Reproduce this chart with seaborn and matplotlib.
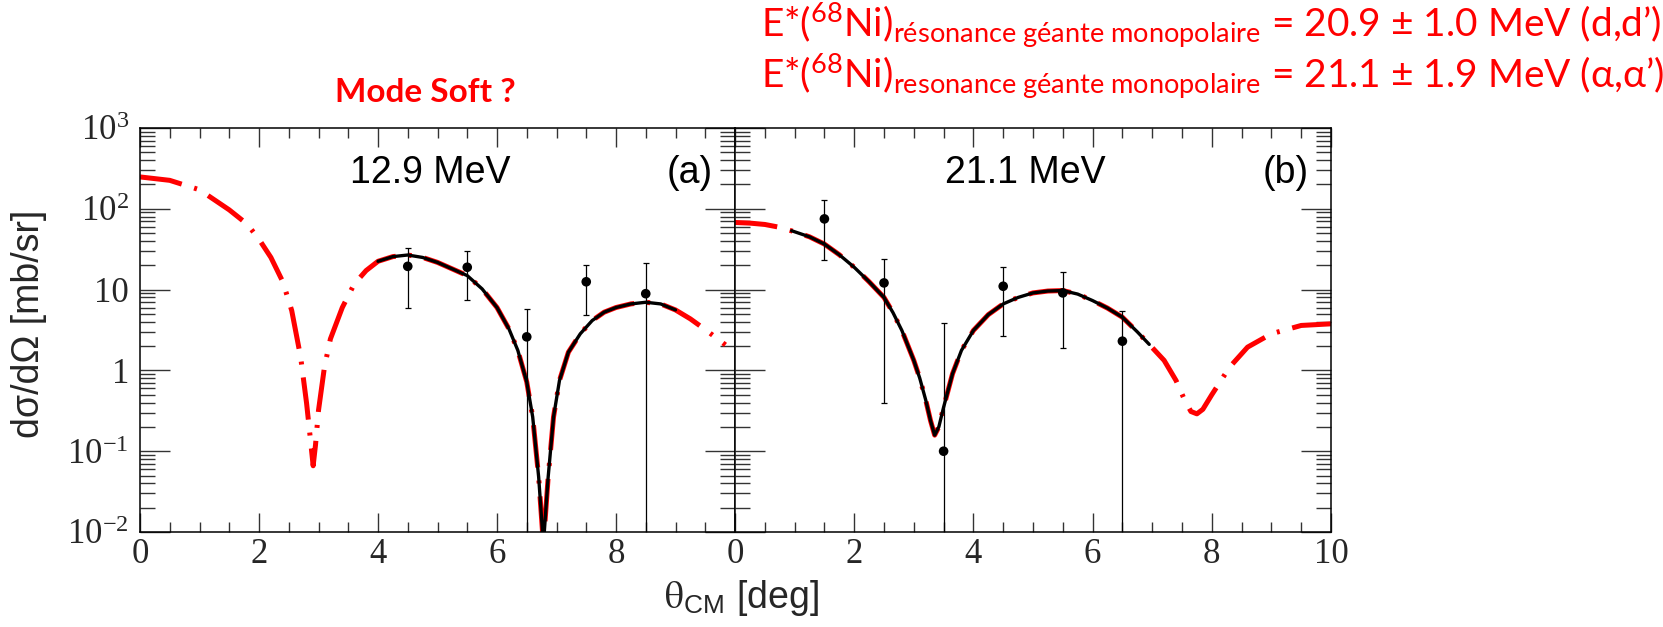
import numpy as np
import pandas as pd
import matplotlib
matplotlib.use("Agg")
import matplotlib.pyplot as plt
from matplotlib.ticker import FixedLocator, FixedFormatter, LogLocator, MultipleLocator, NullFormatter
import seaborn as sns

# ---- panel (a) : 12.9 MeV ----
theta_a_th = [0.0, 0.5, 1.0, 1.5, 1.8, 2.0, 2.2, 2.4, 2.55, 2.7, 2.8, 2.86, 2.91, 2.95, 3.0,
              3.1, 3.2, 3.4, 3.6, 3.8, 4.0, 4.25, 4.5, 4.75, 5.0, 5.25, 5.5, 5.75, 6.0, 6.2,
              6.35, 6.5, 6.6, 6.7, 6.78, 6.86, 6.95, 7.05, 7.2, 7.4, 7.6, 7.8, 8.0, 8.25, 8.5,
              8.75, 9.0, 9.25, 9.5, 9.84]
xs_a_th = [248, 225, 172, 97, 64.7, 42, 25, 12.5, 5.5, 1.46, 0.39, 0.15, 0.066, 0.12, 0.32,
           1.1, 2.45, 6.0, 11.7, 17.2, 22.4, 25.6, 26.8, 25.0, 21.7, 18.0, 14.9, 10.2, 6.0, 3.27,
           1.77, 0.72, 0.265, 0.048, 0.007, 0.048, 0.265, 0.75, 1.68, 2.84, 4.14, 5.25, 6.0, 6.65, 6.97,
           6.65, 5.6, 4.34, 3.2, 2.07]

fit_theta_a = [4.0, 4.25, 4.5, 4.75, 5.0, 5.25, 5.5, 5.75, 6.0, 6.2, 6.35, 6.5, 6.6, 6.7,
               6.78, 6.86, 6.95, 7.05, 7.2, 7.4, 7.6, 7.8, 8.0, 8.25, 8.5, 8.75, 9.0]
fit_xs_a = [22.4, 25.6, 26.8, 25.0, 21.7, 18.0, 14.9, 10.2, 6.0, 3.27, 1.77, 0.72, 0.265, 0.048,
            0.007, 0.048, 0.265, 0.75, 1.68, 2.84, 4.14, 5.25, 6.0, 6.65, 6.97, 6.65, 5.6]

data_theta_a = [4.5, 5.5, 6.5, 7.5, 8.5]
data_xs_a = [19.4, 18.9, 2.6, 12.5, 8.9]
data_err_a = [13.4, 11.5, 3.2, 7.7, 12.2]

# ---- panel (b) : 21.1 MeV ----
theta_b_th = [0.0, 0.25, 0.5, 0.75, 1.0, 1.25, 1.5, 1.75, 2.0, 2.25, 2.5, 2.65, 2.8, 3.0, 3.1,
              3.2, 3.28, 3.35, 3.42, 3.5, 3.65, 3.8, 4.0, 4.25, 4.5, 4.75, 5.0, 5.25, 5.5, 5.75,
              6.0, 6.25, 6.5, 6.75, 6.95, 7.2, 7.4, 7.55, 7.65, 7.75, 7.85, 8.0, 8.3, 8.6, 9.0,
              9.5, 10.0]
xs_b_th = [67.7, 66.5, 64, 59, 52, 45, 36.6, 27, 18.9, 12.5, 8.0, 5.2, 3.12, 1.33, 0.8,
           0.43, 0.24, 0.158, 0.2, 0.35, 0.91, 1.77, 3.12, 4.9, 6.65, 8.0, 9.1, 9.6, 9.73, 8.8,
           7.31, 5.9, 4.55, 3.0, 2.1, 1.33, 0.75, 0.42, 0.31, 0.29, 0.33, 0.5, 1.1, 1.94, 2.84,
           3.6, 3.77]

fit_theta_b = [0.95, 1.0, 1.25, 1.5, 1.75, 2.0, 2.25, 2.5, 2.65, 2.8, 3.0, 3.1, 3.2, 3.28, 3.35,
               3.42, 3.5, 3.65, 3.8, 4.0, 4.25, 4.5, 4.75, 5.0, 5.25, 5.5, 5.75, 6.0, 6.25,
               6.5, 6.75, 6.95]
fit_xs_b = [53.5, 52, 45, 36.6, 27, 18.9, 12.5, 8.0, 5.2, 3.12, 1.33, 0.8, 0.43, 0.24, 0.158,
            0.2, 0.35, 0.91, 1.77, 3.12, 4.9, 6.65, 8.0, 9.1, 9.6, 9.73, 8.8, 7.31, 5.9,
            4.55, 3.0, 2.1]

data_theta_b = [1.5, 2.5, 3.5, 4.5, 5.5, 6.5]
data_xs_b = [75, 12.1, 0.1, 11.0, 9.1, 2.3]
data_err_b = [52, 11.7, 3.8, 8.3, 7.2, 3.2]

# ---- ticks / labels ----
xticks = [0, 2, 4, 6, 8, 10]
xtick_labels_a = ["0", "2", "4", "6", "8", ""]
xtick_labels_b = ["0", "2", "4", "6", "8", "10"]
yticks = [1e-2, 1e-1, 1, 10, 100, 1000]
ytick_labels = [r"$\mathregular{10^{-2}}$", r"$\mathregular{10^{-1}}$", "1", "10",
                r"$\mathregular{10^{2}}$", r"$\mathregular{10^{3}}$"]
energy_a = "12.9 MeV"
energy_b = "21.1 MeV"

sns.set_theme(style="ticks")
plt.rcParams["font.family"] = ["Liberation Sans", "DejaVu Sans"]
plt.rcParams["mathtext.fontset"] = "stix"

fig = plt.figure(figsize=(16.63, 6.27), dpi=100)
W, H = 1663, 627
ax1 = fig.add_axes([140 / W, 1 - 532 / H, 595 / W, 404 / H])
ax2 = fig.add_axes([735 / W, 1 - 532 / H, 596 / W, 404 / H])

red_ls = (0, (8.5, 2.6, 0.6, 2.6))

panels = [
    (ax1, theta_a_th, xs_a_th, fit_theta_a, fit_xs_a, data_theta_a, data_xs_a, data_err_a, xtick_labels_a, energy_a, "(a)"),
    (ax2, theta_b_th, xs_b_th, fit_theta_b, fit_xs_b, data_theta_b, data_xs_b, data_err_b, xtick_labels_b, energy_b, "(b)"),
]

for ax, th, xs, fth, fxs, dth, dxs, derr, xlabs, en, tag in panels:
    ax.set_yscale("log")
    sns.lineplot(x=th, y=xs, ax=ax, color="red", lw=3.6, sort=False, estimator=None)
    ax.lines[-1].set_linestyle(red_ls)
    sns.lineplot(x=fth, y=fxs, ax=ax, color="black", lw=2.4, sort=False, estimator=None)
    ax.errorbar(dth, dxs, yerr=derr, fmt="none", ecolor="black", elinewidth=0.9,
                capsize=2.2, capthick=0.9, zorder=4)
    sns.scatterplot(x=dth, y=dxs, ax=ax, color="black", s=48, edgecolor="none", zorder=5)

    ax.set_xlim(0, 10)
    ax.set_ylim(1e-2, 1e3)
    ax.xaxis.set_major_locator(FixedLocator(xticks))
    ax.xaxis.set_major_formatter(FixedFormatter(xlabs))
    ax.xaxis.set_minor_locator(MultipleLocator(0.5))
    ax.yaxis.set_major_locator(FixedLocator(yticks))
    ax.yaxis.set_major_formatter(FixedFormatter(ytick_labels))
    ax.yaxis.set_minor_locator(LogLocator(base=10, subs=np.arange(2, 10), numticks=30))
    ax.yaxis.set_minor_formatter(NullFormatter())

    ax.tick_params(axis="x", which="major", direction="in", length=14, width=1.0, color="#333333",
                   top=True, bottom=True, labelsize=25, pad=4, labelfontfamily="Liberation Serif")
    ax.tick_params(axis="x", which="minor", direction="in", length=7, width=1.0, color="#333333",
                   top=True, bottom=True)
    ax.tick_params(axis="y", which="major", direction="in", length=21.5, width=1.0, color="#333333",
                   left=True, right=True, labelsize=25, pad=8, labelfontfamily="Liberation Serif")
    ax.tick_params(axis="y", which="minor", direction="in", length=10.8, width=1.0, color="#333333",
                   left=True, right=True)
    for sp in ax.spines.values():
        sp.set_color("black")
        sp.set_linewidth(1.1)
    ax.set_xlabel("")
    ax.set_ylabel("")

    ax.text(0.353, 0.864, en, transform=ax.transAxes, ha="left", va="baseline", fontsize=27,
            family="Liberation Sans", color="black")
    ax.text(0.963, 0.864, tag, transform=ax.transAxes, ha="right", va="baseline", fontsize=27,
            family="Liberation Sans", color="black")

ax2.tick_params(axis="y", labelleft=False)

fig.text(741 / W, 1 - 608 / H, r"$\mathrm{\theta}_{\mathregular{CM}}$ [deg]", ha="center", va="baseline",
         fontsize=27, family="Liberation Sans")
fig.text(29 / W, 1 - 324 / H, "dσ/dΩ [mb/sr]", rotation=90, ha="center", va="center",
         fontsize=27, family="Liberation Sans")

fig.text(425 / W, 1 - 102 / H, "Mode Soft ?", ha="center", va="baseline", fontsize=24,
         fontweight="bold", color="red", family=["Lato", "DejaVu Sans"])

line1 = r"E*($\mathregular{^{68}}$Ni)$\mathregular{_{résonance\ géante\ monopolaire}}$ = 20.9 ± 1.0 MeV (d,d’)"
line2 = r"E*($\mathregular{^{68}}$Ni)$\mathregular{_{resonance\ géante\ monopolaire}}$ = 21.1 ± 1.9 MeV (α,α’)"
fig.text(761 / W, 1 - 37 / H, line1, ha="left", va="baseline", fontsize=28, color="red",
         family=["Lato", "Liberation Serif"])
fig.text(761 / W, 1 - 88 / H, line2, ha="left", va="baseline", fontsize=28, color="red",
         family=["Lato", "Liberation Serif"])

fig.savefig("out.png", dpi=100)
